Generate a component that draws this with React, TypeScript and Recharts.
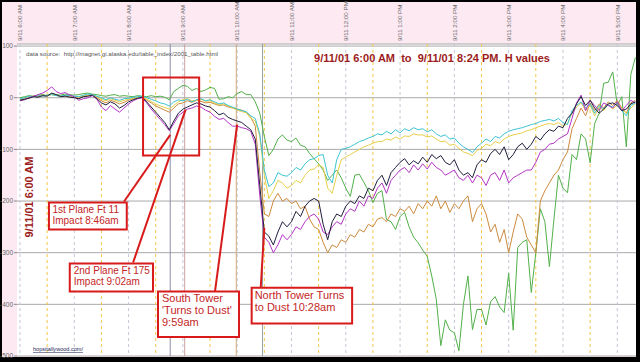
import React from 'react';
import { LineChart, Line, XAxis, YAxis, CartesianGrid, ReferenceLine, ReferenceArea } from 'recharts';

// minutes after 9/11/01 6:00 AM, sampled every 5 min
const minutes = Array.from({ length: 137 }, (_, i) => i * 5);

const hourTicks = [0, 60, 120, 180, 240, 300, 360, 420, 480, 540, 600, 660];
const hourLabels = [
  '9/11 6:00 AM', '9/11 7:00 AM', '9/11 8:00 AM', '9/11 9:00 AM', '9/11 10:00 AM', '9/11 11:00 AM',
  '9/11 12:00 PM', '9/11 1:00 PM', '9/11 2:00 PM', '9/11 3:00 PM', '9/11 4:00 PM', '9/11 5:00 PM',
];
const halfHours = [30, 90, 150, 210, 270, 330, 390, 450, 510, 570, 630];
const valueTicks = [100, 0, -100, -200, -300, -400, -500];

// H values, one per 5 minutes
const green = [
  0, 2, 4, 3, 5, 6, 4, 8, 6, 5, 7, 6,
  5, 6, 8, 9, 7, 6, 4, 3, 5, 6, 3, 4,
  3, 2, 4, 3, 2, 4, 2, 3, 1, -4, 12, 18,
  24, 22, 14, 18, 12, 15, 20, 18, -3, -2, 2, 0,
  8, 12, 6, 6, -8, -30, -75, -112, -100, -80, -72, -82,
  -85, -78, -92, -95, -108, -118, -128, -140, -160, -150, -140, -155,
  -175, -191, -150, -148, -164, -180, -203, -185, -180, -236, -240, -255,
  -230, -222, -250, -270, -281, -295, -307, -345, -390, -480, -430, -450,
  -455, -490, -400, -345, -449, -410, -410, -440, -395, -385, -405, -416,
  -340, -450, -290, -280, -275, -377, -300, -215, -240, -327, -236, -150,
  -175, -184, -110, -120, -70, -80, -126, -50, -30, 28, 30, 50,
  -15, 2, -95, 45, 78,
];
const cyan = [
  -2, 0, 3, 2, 4, 3, 5, 6, 4, 3, 5, 4,
  3, 2, 5, 7, 6, 3, 0, -4, 0, -3, -5, -2,
  -1, 1, 2, 3, 0, -3, -6, -10, -12, -16, -8, -4,
  -6, -3, -8, -4, -2, -6, -4, -8, -12, -10, -15, -18,
  -22, -25, -27, -35, -40, -70, -140, -172, -165, -145, -150, -152,
  -145, -135, -140, -128, -120, -118, -112, -110, -150, -165, -120, -100,
  -98, -95, -90, -85, -82, -78, -75, -70, -72, -65, -70, -62,
  -68, -60, -64, -58, -62, -60, -66, -62, -70, -75, -72, -80,
  -78, -88, -95, -100, -106, -95, -88, -80, -85, -75, -78, -70,
  -65, -62, -60, -58, -55, -52, -50, -46, -44, -42, -45, -40,
  -48, -52, -25, -15, -8, -20, -12, -30, -15, -22, -14, -18,
  -10, -25, -35, -15, -10,
];
const yellow = [
  -3, -1, 2, 3, 5, 4, 3, 6, 5, 2, 4, 3,
  2, 1, 4, 5, 6, 2, -3, -6, -2, -5, -8, -5,
  -3, -1, 1, 2, -3, -7, -12, -16, -19, -22, -15, -8,
  -4, -2, -6, -5, -3, -7, -6, -10, -14, -12, -16, -20,
  -24, -27, -29, -40, -45, -75, -150, -195, -180, -160, -165, -175,
  -170, -160, -165, -150, -140, -138, -130, -135, -175, -185, -150, -120,
  -115, -110, -105, -100, -95, -92, -88, -85, -85, -80, -82, -76,
  -80, -74, -75, -70, -72, -72, -76, -74, -80, -85, -84, -92,
  -90, -98, -105, -108, -112, -102, -98, -90, -93, -85, -88, -80,
  -75, -72, -70, -68, -64, -62, -58, -55, -52, -50, -52, -48,
  -55, -50, -30, -18, -10, -25, -15, -35, -18, -25, -12, -22,
  -14, -20, -30, -20, -12,
];
const orange = [
  -4, -2, 0, 3, 2, 5, 4, 7, 5, 3, 4, 2,
  1, -1, 3, 4, 6, 0, -6, -10, -5, -8, -12, -9,
  -5, -2, 0, 2, -5, -10, -16, -20, -24, -28, -20, -12,
  -10, -6, -9, -5, -7, -10, -9, -12, -15, -14, -18, -20,
  -22, -24, -28, -38, -55, -145, -225, -230, -200, -185, -200, -195,
  -205, -200, -215, -210, -235, -250, -255, -280, -300, -285, -290, -275,
  -280, -265, -270, -255, -260, -245, -250, -235, -232, -240, -225, -230,
  -215, -220, -210, -225, -205, -215, -200, -210, -190, -215, -200, -222,
  -205, -215, -200, -190, -240, -215, -205, -225, -260, -245, -280, -255,
  -300, -260, -225, -235, -270, -285, -300, -200, -180, -165, -150, -140,
  -120, -105, -60, -40, -20, -35, -10, -25, -12, -20, -8, -15,
  -5, -20, -30, -10, -5,
];
const black = [
  -5, -3, -1, 2, 1, 4, 3, 9, 6, 2, 3, 1,
  0, -2, 2, 3, 5, -2, -10, -14, -8, -12, -20, -15,
  -8, -4, -1, 1, -8, -18, -28, -38, -48, -62, -45, -30,
  -22, -18, -14, -10, -12, -16, -18, -25, -33, -30, -38, -42,
  -45, -48, -55, -62, -80, -170, -260, -268, -285, -260, -240, -250,
  -240, -220, -230, -210, -200, -195, -200, -245, -275, -240, -225, -230,
  -210, -200, -205, -190, -195, -175, -180, -160, -150, -170, -145, -135,
  -125, -118, -130, -122, -128, -115, -125, -110, -118, -112, -125, -130,
  -120, -140, -150, -145, -155, -130, -120, -125, -108, -100, -110, -95,
  -120, -110, -95, -88, -100, -90, -75, -82, -70, -62, -65, -55,
  -58, -40, -30, -12, 2, -15, -5, -20, -30, -22, -12, -10,
  -15, -25, -22, -12, -8,
];
const magenta = [
  -6, -4, 0, 3, 6, 9, 14, 21, 12, 8, 10, 5,
  2, -5, -2, 0, 4, -3, -18, -25, -15, -22, -28, -20,
  -12, -6, -2, 0, -10, -22, -32, -42, -52, -64, -50, -35,
  -28, -22, -20, -16, -18, -24, -28, -36, -42, -40, -48, -55,
  -55, -58, -60, -65, -90, -190, -270, -280, -300, -285, -265, -275,
  -265, -250, -255, -240, -230, -225, -235, -260, -265, -250, -240, -245,
  -225, -215, -220, -200, -210, -190, -195, -175, -165, -185, -160, -150,
  -140, -135, -145, -130, -140, -128, -138, -125, -135, -140, -150, -145,
  -140, -155, -160, -150, -165, -150, -155, -170, -150, -145, -160, -140,
  -165, -155, -150, -145, -140, -140, -125, -105, -100, -90, -88, -80,
  -75, -70, -40, -10, 5, -25, -5, -15, -25, -10, -15, -20,
  -8, -25, -15, -5, -10,
];

// event times (minutes after 6:00)
const eventMinutes = [166, 182, 239, 268];
const eventColors = ['#8c8cab', '#c9a0a0', '#d2aa7c', '#93a3ab'];

// annotation boxes in data units
const boxX = [[32, 118], [55, 147], [152.5, 242], [256, 367]];
const boxY = [[-255, -203], [-375, -321], [-463, -375], [-437, -368]];
const boxText = [
  ['1st Plane Ft 11', 'Impact 8:46am'],
  ['2nd Plane Ft 175', 'Impact 9:02am'],
  ['South Tower', "'Turns to Dust'", '9:59am'],
  ['North Tower Turns', 'to Dust 10:28am'],
];
const connectors = [
  [[115, -201], [166, -72]],
  [[125, -319], [183, -23]],
  [[215.5, -375], [240, -52]],
  [[266, -368], [270, -252]],
];
const zoomBox = { x: [136, 198], y: [-112, 39] };

const series = [
  { key: 'green', color: '#52b04a', values: green },
  { key: 'orange', color: '#cc8a3e', values: orange },
  { key: 'yellow', color: '#e6cf48', values: yellow },
  { key: 'cyan', color: '#3cc4d2', values: cyan },
  { key: 'magenta', color: '#b335c4', values: magenta },
  { key: 'black', color: '#1e1e3c', values: black },
];

const rows = minutes.map((m, i) => {
  const row: Record<string, number> = { minute: m };
  series.forEach(s => { row[s.key] = s.values[i]; });
  return row;
});

const RED = '#d81a1a';
const TEXT_RED = '#c42626';
const FONT = '"Liberation Sans", Arial, sans-serif';
const boxFont = [10, 10, 11, 11];
const boxPad = [3.5, 4, 4, 3];
const boxFirst = [10, 10, 11, 11];
const boxLine = [11, 11, 12, 12.5];

function HourTick({ x, payload }: any) {
  const idx = hourTicks.indexOf(payload.value);
  return (
    <text
      transform={`translate(${x + 2.3},41) rotate(-90)`}
      fontSize={6.2}
      fill="#6a6a6a"
      fontFamily={FONT}
    >
      {hourLabels[idx]}
    </text>
  );
}

const boxLabel = (i: number) => (props: any) => {
  const vb = props.viewBox || {};
  const x = vb.x + boxPad[i];
  return (
    <text fill={TEXT_RED} fontSize={boxFont[i]} fontFamily={FONT}>
      {boxText[i].map((t, j) => (
        <tspan key={j} x={x} y={vb.y + boxFirst[i] + j * boxLine[i]}>{t}</tspan>
      ))}
    </text>
  );
};

export default function App() {
  return (
    <div style={{ position: 'relative', width: 640, height: 362, background: '#000', overflow: 'hidden' }}>
      <style>{'body{margin:0}'}</style>
      <div style={{ position: 'absolute', left: 2, top: 2, width: 634, height: 355, background: '#fce9f2' }} />
      <div style={{ position: 'absolute', left: 0, top: 0 }}>
        <LineChart width={640} height={362} data={rows} margin={{ top: 0, right: 4, bottom: 6, left: 0 }}>
          <CartesianGrid horizontal vertical={false} stroke="#a9a9a9" fill="#ffffff" fillOpacity={1} />
          <XAxis
            dataKey="minute"
            type="number"
            orientation="top"
            height={44}
            domain={[-3.3, 680.7]}
            allowDataOverflow
            ticks={hourTicks}
            interval={0}
            tick={<HourTick />}
            tickLine={false}
            axisLine={false}
          />
          <YAxis
            type="number"
            width={17}
            domain={[-500, 104]}
            allowDataOverflow
            ticks={valueTicks}
            interval={0}
            tickSize={3}
            tickMargin={1}
            axisLine={false}
            tickLine={{ stroke: '#888' }}
            tick={{ fontSize: 6.5, fill: '#666', fontFamily: FONT }}
          />
          {halfHours.map(m => (
            <ReferenceLine key={`h${m}`} x={m} stroke="#f2c64a" strokeDasharray="3 3" zIndex={-50} />
          ))}
          {hourTicks.map(m => (
            <ReferenceLine key={`g${m}`} x={m} stroke="#c6c6d6" strokeDasharray="3 3" zIndex={-50} />
          ))}
          {eventMinutes.map((m, i) => (
            <ReferenceLine key={`e${m}`} x={m} stroke={eventColors[i]} strokeWidth={1} zIndex={-40} />
          ))}
          {series.map(s => (
            <Line
              key={s.key}
              dataKey={s.key}
              type="linear"
              stroke={s.color}
              strokeWidth={1}
              dot={false}
              activeDot={false}
              isAnimationActive={false}
            />
          ))}
          <ReferenceArea
            x1={zoomBox.x[0]}
            x2={zoomBox.x[1]}
            y1={zoomBox.y[0]}
            y2={zoomBox.y[1]}
            fill="none"
            stroke={RED}
            strokeWidth={2}
            zIndex={1400}
          />
          {connectors.map((c, i) => (
            <ReferenceLine
              key={`c${i}`}
              segment={[{ x: c[0][0], y: c[0][1] }, { x: c[1][0], y: c[1][1] }]}
              stroke={RED}
              strokeWidth={2}
              ifOverflow="visible"
              zIndex={1400}
            />
          ))}
          {boxText.map((_, i) => (
            <ReferenceArea
              key={`b${i}`}
              x1={boxX[i][0]}
              x2={boxX[i][1]}
              y1={boxY[i][0]}
              y2={boxY[i][1]}
              fill="#ffffff"
              fillOpacity={1}
              stroke={RED}
              strokeWidth={2}
              zIndex={1500}
              label={{ content: boxLabel(i) }}
            />
          ))}
        </LineChart>
      </div>
      <svg width={640} height={362} style={{ position: 'absolute', left: 0, top: 0, pointerEvents: 'none' }}>
        <text x={26} y={56} fontSize={5.5} fill="#555" fontFamily={FONT} textLength={192} lengthAdjust="spacingAndGlyphs" style={{ whiteSpace: 'pre' }}>
          {'data source:  http://magnet.gi.alaska.edu/table_index/2001_table.html'}
        </text>
        <text x={314} y={62} fontSize={10} fontWeight="bold" fill="#9c1c1c" fontFamily={FONT} textLength={236} lengthAdjust="spacingAndGlyphs" style={{ whiteSpace: 'pre' }}>
          {'9/11/01 6:00 AM  to  9/11/01 8:24 PM. H values'}
        </text>
        <text transform="translate(33,197) rotate(-90)" textAnchor="middle" fontSize={10} fontWeight="bold" fill="#9c1c1c" fontFamily={FONT} textLength={81} lengthAdjust="spacingAndGlyphs">
          9/11/01 6:00 AM
        </text>
        <text x={33} y={351} fontSize={5.5} fill="#22245a" fontFamily={FONT} textDecoration="underline" textLength={50} lengthAdjust="spacingAndGlyphs">
          hopsitallywood.com/
        </text>
      </svg>
    </div>
  );
}
